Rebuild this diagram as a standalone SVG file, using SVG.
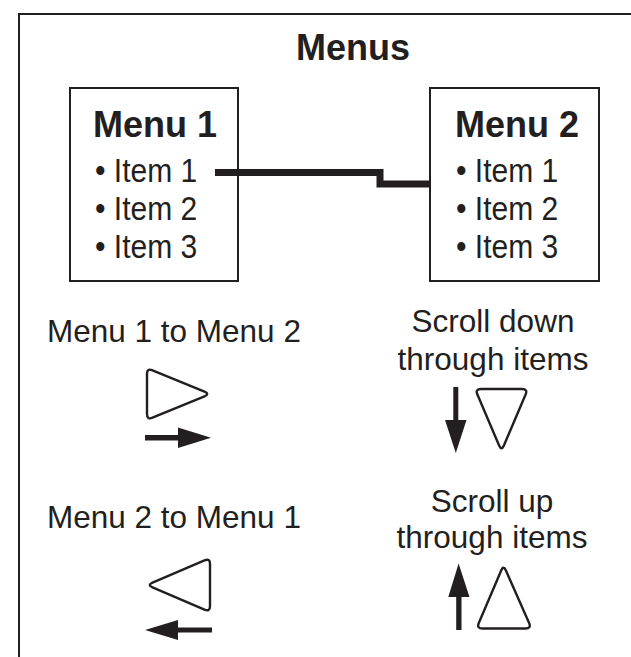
<svg xmlns="http://www.w3.org/2000/svg" width="631" height="657" viewBox="0 0 631 657">
<style>
.t{font-family:"Liberation Sans",Arial,sans-serif;fill:#231f20}
.b{font-weight:bold;font-size:36px}
.i{font-size:33px}
.l{font-size:31.5px}
.m{text-anchor:middle}
.box{fill:none;stroke:#231f20;stroke-width:2}
.tri{fill:none;stroke:#231f20;stroke-width:2.4;stroke-linejoin:round}
.arr{fill:#231f20;stroke:none}
</style>
<rect width="631" height="657" fill="#fff"/>
<g id="frame"><rect x="19" y="14" width="700" height="700" fill="none" stroke="#231f20" stroke-width="2"/></g>
<text id="title" class="t b m" x="353" y="60">Menus</text>
<g id="menu1">
<rect class="box" x="70" y="88" width="168" height="193"/>
<text class="t b" x="93" y="137">Menu 1</text>
<text class="t i" transform="translate(95,182) scale(0.91,1)">• Item 1</text>
<text class="t i" transform="translate(95,220) scale(0.91,1)">• Item 2</text>
<text class="t i" transform="translate(95,258) scale(0.91,1)">• Item 3</text>
</g>
<g id="menu2">
<rect class="box" x="430" y="88" width="169" height="193"/>
<text class="t b" x="455" y="137">Menu 2</text>
<text class="t i" transform="translate(456,182) scale(0.91,1)">• Item 1</text>
<text class="t i" transform="translate(456,220) scale(0.91,1)">• Item 2</text>
<text class="t i" transform="translate(456,258) scale(0.91,1)">• Item 3</text>
</g>
<g id="connectors">
<path d="M215,172.5 H380 V184 H430" fill="none" stroke="#231f20" stroke-width="7" stroke-linejoin="miter"/>
</g>
<g id="next-menu">
<text class="t l" x="47" y="342">Menu 1 to Menu 2</text>
<path class="tri" d="M147,374 L147,414 Q147,420 152.5,417.7 L204.5,396.3 Q210,394 204.5,391.7 L152.5,370.3 Q147,368 147,374 Z"/>
<path class="arr" d="M145,435 H178 V427.5 L211,437.7 L178,448 V440.5 H145 Z"/>
</g>
<g id="scroll-down">
<text class="t l m" x="493" y="332">Scroll down</text>
<text class="t l m" x="493" y="370">through items</text>
<path class="arr" d="M453.3,387 H458.3 V420 H466.5 L455.8,453 L445,420 H453.3 Z"/>
<path class="tri" d="M481,389 L522,389 Q528,389 525.6,394.5 L503.9,445.5 Q501.5,451 499.1,445.5 L477.4,394.5 Q475,389 481,389 Z"/>
</g>
<g id="prev-menu">
<text class="t l" x="47" y="528">Menu 2 to Menu 1</text>
<path class="tri" d="M210,564 L210,606 Q210,612 204.5,609.6 L152.5,587.4 Q147,585 152.5,582.6 L204.5,560.4 Q210,558 210,564 Z"/>
<path class="arr" d="M212,627.5 H178 V620 L145,630 L178,640 V632.5 H212 Z"/>
</g>
<g id="scroll-up">
<text class="t l m" x="492" y="512">Scroll up</text>
<text class="t l m" x="492" y="548">through items</text>
<path class="arr" d="M456.2,630 H461.5 V597 H469.5 L458.6,563.5 L448.3,597 H456.2 Z"/>
<path class="tri" d="M501.2,570.5 Q503.5,565 505.9,570.5 L529.1,623 Q531.5,628.5 525.5,628.5 L482.5,628.5 Q476.5,628.5 478.8,623 Z"/>
</g>
</svg>
